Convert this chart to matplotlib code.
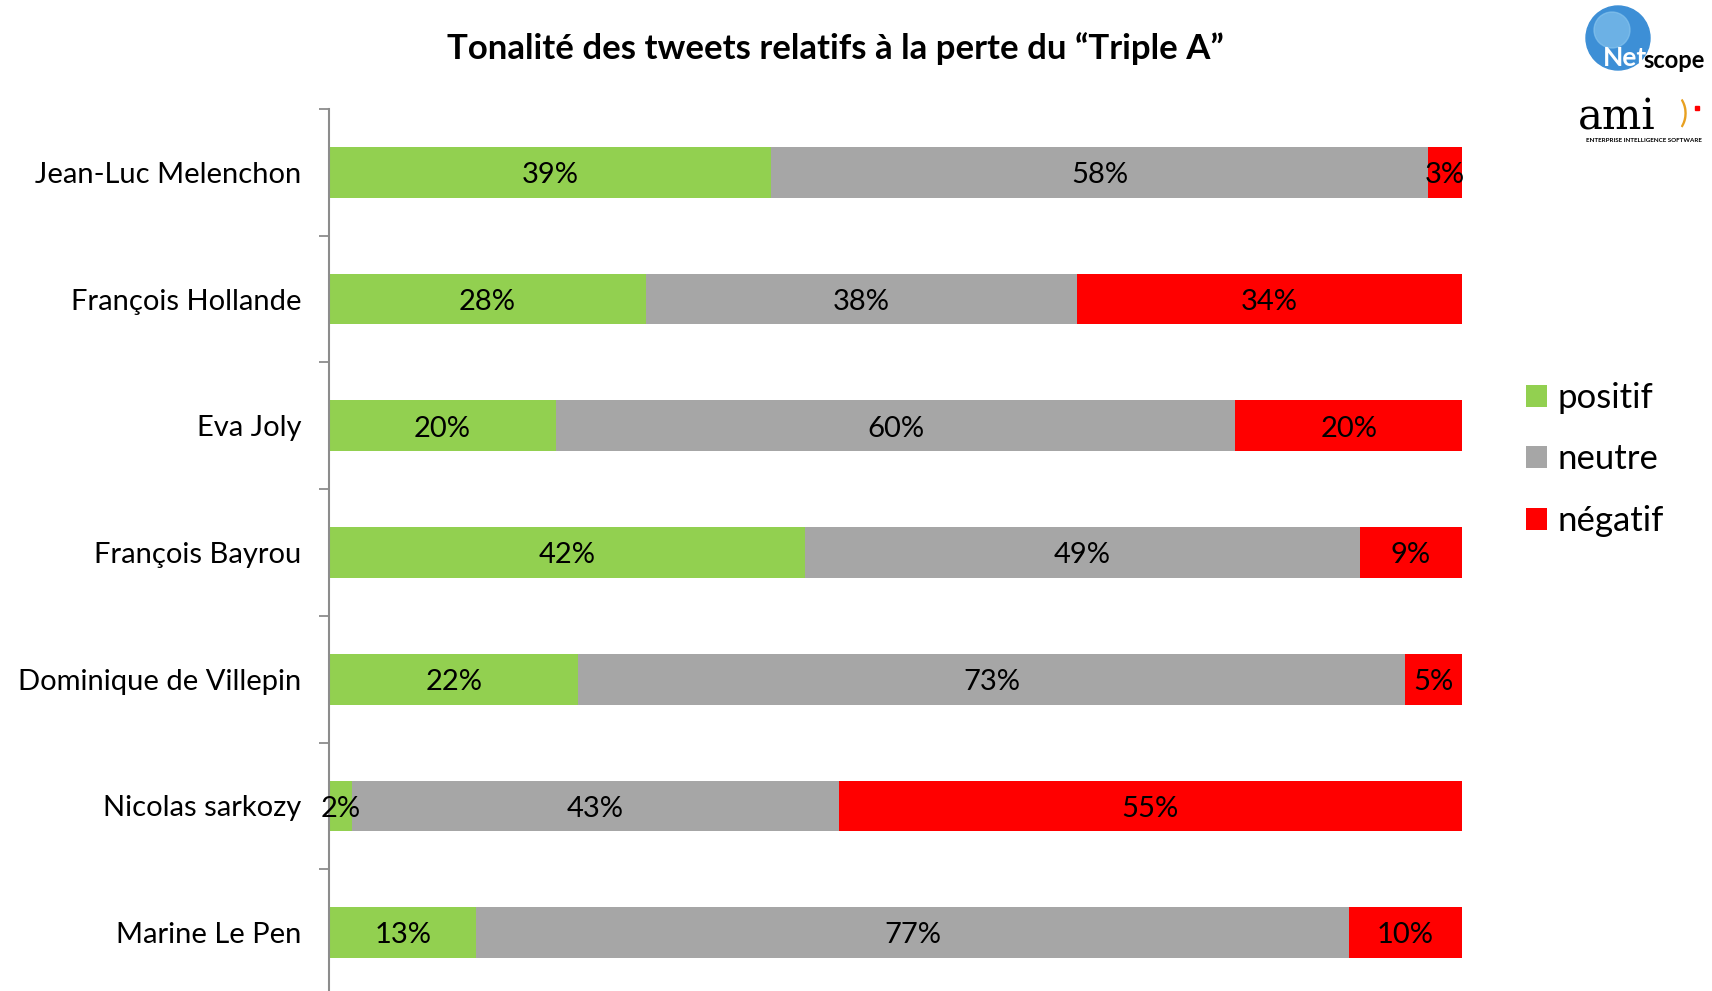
import matplotlib
matplotlib.use("Agg")
import matplotlib.pyplot as plt
from matplotlib.patches import Circle
import numpy as np

plt.rcParams['font.family'] = ['Lato', 'DejaVu Sans']

candidats = ["Jean-Luc Melenchon", "François Hollande", "Eva Joly",
             "François Bayrou", "Dominique de Villepin", "Nicolas sarkozy",
             "Marine Le Pen"]
positif = [39, 28, 20, 42, 22, 2, 13]
neutre = [58, 38, 60, 49, 73, 43, 77]
negatif = [3, 34, 20, 9, 5, 55, 10]

series = ["positif", "neutre", "négatif"]
couleurs = ["#92D050", "#A6A6A6", "#FF0000"]

W, H = 1712, 991
fig = plt.figure(figsize=(W / 100, H / 100), dpi=100)

# axes placed in pixel terms
x0, x1 = 329, 1462
y_top, y_bot = 109, 996
ax = fig.add_axes([x0 / W, 1 - y_bot / H, (x1 - x0) / W, (y_bot - y_top) / H])

y = np.arange(len(candidats)) + 0.5
left = np.zeros(len(candidats))
for nom, vals, c in zip(series, [positif, neutre, negatif], couleurs):
    vals = np.array(vals)
    bars = ax.barh(y, vals, left=left, height=0.4, color=c, label=nom)
    txts = ax.bar_label(bars, labels=["%d%%" % v for v in vals], label_type="center",
                        fontsize=21, color="black")
    for t in txts:
        t.xyann = (0, -2)
    left = left + vals

ax.set_xlim(0, 100)
ax.set_ylim(len(candidats), 0)
ax.set_xticks([])
ax.set_yticks(y)
ax.set_yticklabels(candidats, fontsize=21)
ax.set_yticks(np.arange(len(candidats) + 1), minor=True)
ax.tick_params(axis="y", which="major", length=0, pad=20)
ax.tick_params(axis="y", which="minor", length=7, width=1.3, color="#8c8c8c")
for s in ["top", "right", "bottom"]:
    ax.spines[s].set_visible(False)
ax.spines["left"].set_color("#8c8c8c")
ax.spines["left"].set_linewidth(1.5)

fig.text(835 / W, 1 - 49 / H, "Tonalité des tweets relatifs à la perte du \u201cTriple A\u201d",
         ha="center", va="center", fontsize=25, fontweight="bold")

handles, labels = ax.get_legend_handles_labels()
fig.legend(handles, labels, loc="upper left", bbox_to_anchor=(1512 / W, 1 - 368 / H),
           frameon=False, fontsize=25, handlelength=0.6, handleheight=0.6,
           handletextpad=0.3, labelspacing=0.85, borderaxespad=0)

# logo
lax = fig.add_axes([1570 / W, 1 - 150 / H, 142 / W, 150 / H])
lax.set_xlim(1570, 1712)
lax.set_ylim(150, 0)
lax.axis("off")
lax.add_patch(Circle((1618, 38), 32, color="#3d8fd6"))
lax.add_patch(Circle((1612, 30), 18, color="#8cc8f0", alpha=0.6))
lax.text(1625, 58, "Net", color="white", fontsize=19, fontweight="bold", ha="center", va="center")
lax.text(1674, 60, "scope", color="black", fontsize=17, fontweight="bold", ha="center", va="center")
lax.text(1617, 118, "ami", fontsize=30, family="DejaVu Serif", ha="center", va="center")
lax.text(1644, 141, "ENTERPRISE INTELLIGENCE SOFTWARE", fontsize=4.5, fontweight="bold",
         ha="center", va="center")
lax.text(1683, 113, ")", fontsize=22, color="#e8a020", ha="center", va="center")
lax.plot([1697], [108], "s", color="red", ms=3)

fig.savefig("out.png", dpi=100)
